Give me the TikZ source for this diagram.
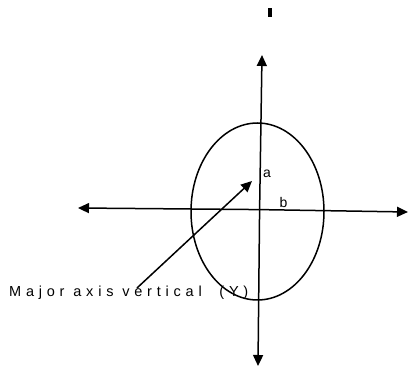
\documentclass[tikz,border=0pt]{standalone}
\usepackage{fontspec}
\setmainfont{Liberation Sans}
\usetikzlibrary{arrows.meta,shapes.geometric}
\tikzset{
  axisline/.style={line width=1.5pt, -{Triangle[length=11pt,width=10pt]}},
  lbl/.style={font=\fontsize{14}{16}\selectfont, inner sep=0pt},
}
\begin{document}
\begin{tikzpicture}[x=1pt,y=-1pt]
\useasboundingbox (0,0) rectangle (408,366);
% small mark
\fill (267.5,8.5) rectangle (271.5,17.5);
% ellipse
\node[draw, line width=1.5pt, ellipse, minimum width=133pt, minimum height=177pt, inner sep=0pt] (ell) at (257.5,211.5) {};
% axes
\coordinate (top) at (262,55);
\coordinate (bot) at (258,366);
\coordinate (left) at (78,208);
\coordinate (right) at (408,212);
\coordinate (ctr) at (259.6,209.6);
\draw[axisline] (ctr) -- (top);
\draw[axisline] (ctr) -- (bot);
\draw[axisline] (ctr) -- (left);
\draw[axisline] (ctr) -- (right);
% labels
\node[lbl, anchor=base] (a) at (267,178) {a};
\node[lbl, anchor=base] (b) at (283.5,207.7) {b};
% caption
\node[lbl, anchor=base west, font=\fontsize{14.5}{16}\selectfont\addfontfeature{LetterSpace=33}] (cap) at (9,297) {Major axis vertical\ \ (Y)};
\coordinate (from) at (137,288);
\coordinate (tip) at (252,181);
\draw[axisline] (from) -- (tip);
\end{tikzpicture}
\end{document}
